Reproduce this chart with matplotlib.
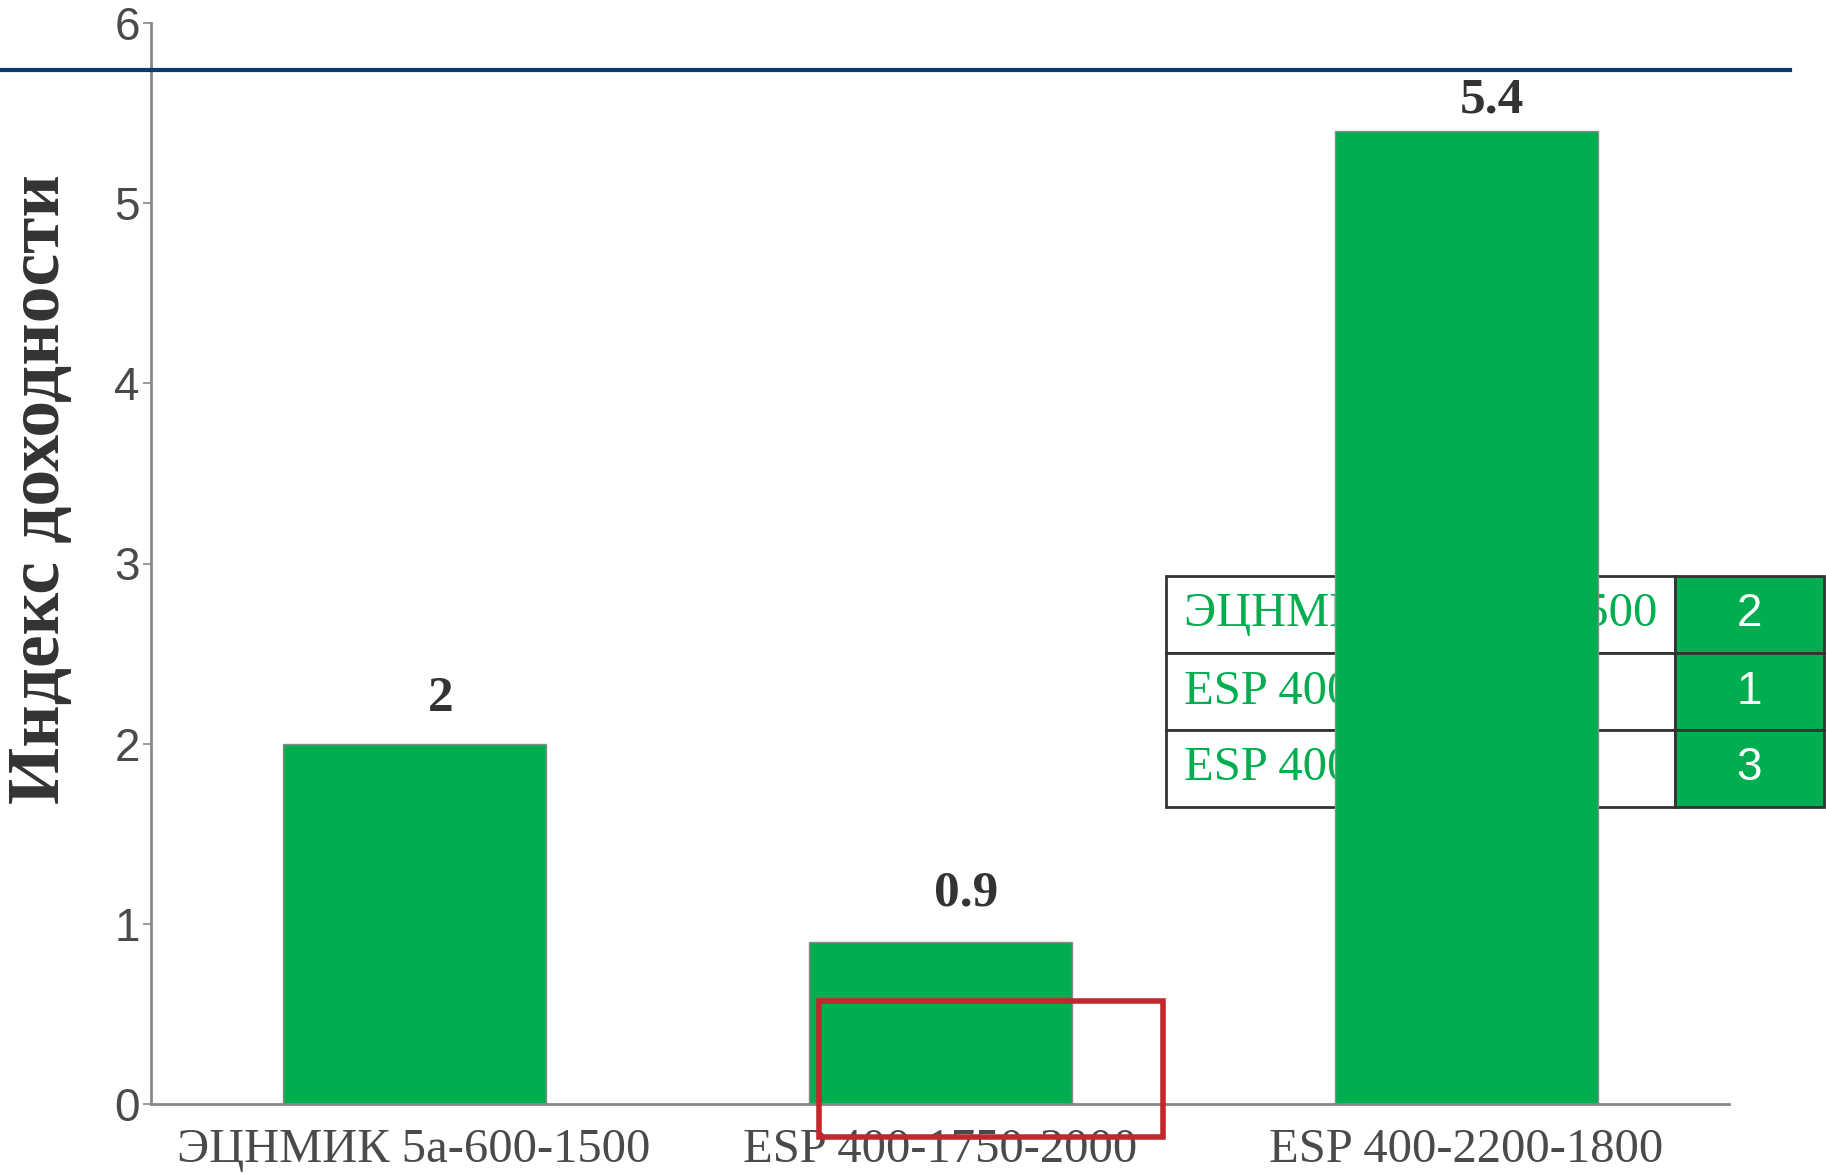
import matplotlib
matplotlib.use("Agg")
import matplotlib.pyplot as plt
from matplotlib.patches import Rectangle
from matplotlib.lines import Line2D

### data
categories = ['ЭЦНМИК 5а-600-1500', 'ESP 400-1750-2000', 'ESP 400-2200-1800']
values = [2, 0.9, 5.4]
value_labels = ['2', '0.9', '5.4']
table_names = ['ЭЦНМИК 5а-600-1500', 'ESP 400-1750-2000', 'ESP 400-2200-1800']
table_ranks = ['2', '1', '3']
yticks = [0, 1, 2, 3, 4, 5, 6]

### settings
W, H = 1826, 1174
green = '#00ad4f'
navy = '#0b3a6e'
red = '#c4262e'
serif = 'Liberation Serif'
sans = 'Liberation Sans'
label_gap = [0.25, 0.27, 0.17]   # gap above each bar for its value label


def fx(x):
    return x / W


def fy(y):
    return 1 - y / H


fig = plt.figure(figsize=(W / 100, H / 100), dpi=100)
ax = fig.add_axes([fx(151), fy(1104), fx(1729) - fx(151), fy(23) - fy(1104)])
ax.patch.set_alpha(0)

xs = list(range(len(categories)))
ax.bar(xs, values, width=0.5, color=green, edgecolor='#8a8a8a', linewidth=1, zorder=1)
for x, v, lab, g in zip(xs, values, value_labels, label_gap):
    ax.text(x + 0.05, v + g, lab, ha='center', va='center', fontsize=37,
            fontweight='bold', family=serif, color='#333333')

ax.set_xlim(-0.5, 2.5)
ax.set_ylim(0, 6)
ax.set_xticks(xs)
ax.set_xticklabels(categories, family=serif, fontsize=35, color='#4a4a4a')
ax.set_yticks(yticks)
ax.set_yticklabels([str(t) for t in yticks], family=sans, fontsize=33, color='#4a4a4a')
ax.tick_params(axis='x', length=0, pad=17)
ax.tick_params(axis='y', length=6, width=1.2, color='#888888', pad=2)
for s in ['top', 'right']:
    ax.spines[s].set_visible(False)
for s in ['left', 'bottom']:
    ax.spines[s].set_color('#888888')
    ax.spines[s].set_linewidth(2)

fig.text(fx(41), fy(489), 'Индекс доходности', rotation=90, ha='center', va='center',
         fontsize=53, fontweight='bold', family=serif, color='#333333')

# top rule
fig.add_artist(Line2D([0, fx(1790)], [fy(70), fy(70)], color=navy, linewidth=3))

# little table, sits under the tall bar
tx0, tx1, tsplit = 1166, 1824, 1675
ty0, row_h = 576, 77
for i, (name, rank) in enumerate(zip(table_names, table_ranks)):
    top = ty0 + i * row_h
    ax.add_patch(Rectangle((fx(tx0), fy(top + row_h)), fx(tsplit) - fx(tx0), row_h / H,
                           transform=fig.transFigure, facecolor='white', edgecolor='#333333',
                           linewidth=2, clip_on=False, zorder=0.5))
    ax.add_patch(Rectangle((fx(tsplit), fy(top + row_h)), fx(tx1) - fx(tsplit), row_h / H,
                           transform=fig.transFigure, facecolor=green, edgecolor='#333333',
                           linewidth=2, clip_on=False, zorder=0.5))
    ax.text(fx(1184), fy(top + row_h / 2), name, transform=fig.transFigure, ha='left',
            va='center', fontsize=35, family=serif, color=green, clip_on=False, zorder=0.6)
    ax.text(fx(1749), fy(top + row_h / 2), rank, transform=fig.transFigure, ha='center',
            va='center', fontsize=33, family=sans, color='white', clip_on=False, zorder=0.6)

# red frame on top
ax.add_patch(Rectangle((fx(819), fy(1137)), fx(1163) - fx(819), (1137 - 1001) / H,
                       transform=fig.transFigure, facecolor='none', edgecolor=red,
                       linewidth=4, clip_on=False, zorder=10))

fig.savefig('out.png', dpi=100)
